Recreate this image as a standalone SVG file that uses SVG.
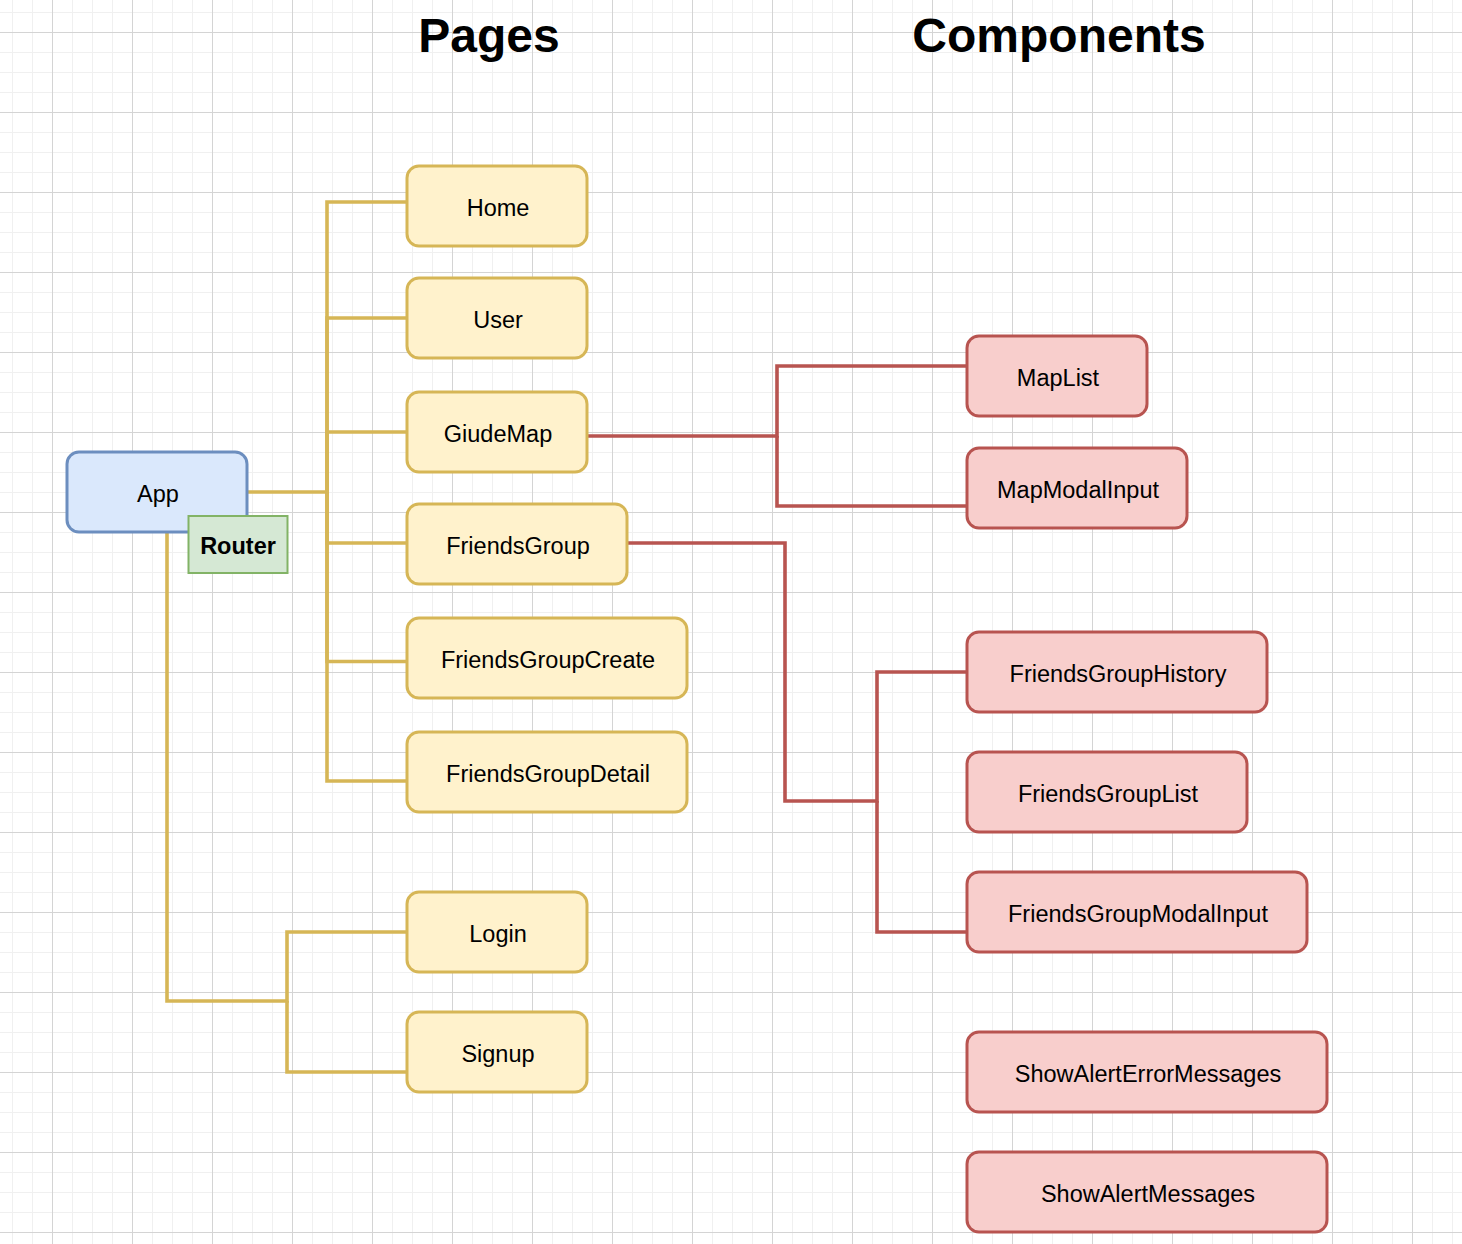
<svg xmlns="http://www.w3.org/2000/svg" width="1462" height="1244" viewBox="0 0 1462 1244">
  <defs>
    <pattern id="minor" x="12" y="12" width="20" height="20" patternUnits="userSpaceOnUse">
      <path d="M0.5 0V20M0 0.5H20" fill="none" stroke="#f0f0f0" stroke-width="1"/>
    </pattern>
    <pattern id="major" x="52" y="32" width="80" height="80" patternUnits="userSpaceOnUse">
      <path d="M0.5 0V80M0 0.5H80" fill="none" stroke="#d4d4d4" stroke-width="1"/>
    </pattern>
  </defs>
  <style>
    text { font-family: "Liberation Sans", Helvetica, Arial, sans-serif; fill: #000000; text-anchor: middle; }
    .title { font-size: 48px; font-weight: bold; }
    .lbl { font-size: 23.5px; }
    .bold { font-weight: bold; }
    .page { fill: #fff2cc; stroke: #d6b656; stroke-width: 3; }
    .comp { fill: #f8cecc; stroke: #b85450; stroke-width: 3; }
    .app { fill: #dae8fc; stroke: #6c8ebf; stroke-width: 3; }
    .router { fill: #d5e8d4; stroke: #82b366; stroke-width: 2; }
    .y { fill: none; stroke: #d6b656; stroke-width: 3.6; stroke-linejoin: miter; }
    .r { fill: none; stroke: #b85450; stroke-width: 3.6; stroke-linejoin: miter; }
  </style>
  <rect x="0" y="0" width="1462" height="1244" fill="#ffffff"/>
  <rect x="0" y="0" width="1462" height="1244" fill="url(#minor)"/>
  <rect x="0" y="0" width="1462" height="1244" fill="url(#major)"/>

  <g id="titles">
    <text class="title" x="489" y="52">Pages</text>
    <text class="title" x="1059" y="52">Components</text>
  </g>

  <g id="connectors">
    <path class="y" d="M248 492 H327 V202 H407"/>
    <path class="y" d="M327 492 V318 H407"/>
    <path class="y" d="M327 492 V432 H407"/>
    <path class="y" d="M327 492 V543 H407"/>
    <path class="y" d="M327 492 V661.5 H407"/>
    <path class="y" d="M327 492 V781 H407"/>
    <path class="y" d="M167 533 V1001 H287 V932 H407"/>
    <path class="y" d="M287 1001 V1072 H407"/>
    <path class="r" d="M588 436 H777 V366 H967"/>
    <path class="r" d="M777 436 V506 H967"/>
    <path class="r" d="M628 543 H785 V801 H877 V672 H967"/>
    <path class="r" d="M877 801 V932 H967"/>
  </g>

  <g id="node-app">
    <rect class="app" x="67" y="452" width="180" height="80" rx="12"/>
    <text class="lbl" x="158" y="501.5">App</text>
  </g>
  <g id="node-router">
    <rect class="router" x="188.5" y="516" width="99" height="57"/>
    <text class="lbl bold" x="238" y="553.5">Router</text>
  </g>

  <g id="node-home">
    <rect class="page" x="407" y="166" width="180" height="80" rx="12"/>
    <text class="lbl" x="498" y="215.5">Home</text>
  </g>
  <g id="node-user">
    <rect class="page" x="407" y="278" width="180" height="80" rx="12"/>
    <text class="lbl" x="498" y="327.5">User</text>
  </g>
  <g id="node-giudemap">
    <rect class="page" x="407" y="392" width="180" height="80" rx="12"/>
    <text class="lbl" x="498" y="441.5">GiudeMap</text>
  </g>
  <g id="node-friendsgroup">
    <rect class="page" x="407" y="504" width="220" height="80" rx="12"/>
    <text class="lbl" x="518" y="553.5">FriendsGroup</text>
  </g>
  <g id="node-friendsgroupcreate">
    <rect class="page" x="407" y="618" width="280" height="80" rx="12"/>
    <text class="lbl" x="548" y="667.5">FriendsGroupCreate</text>
  </g>
  <g id="node-friendsgroupdetail">
    <rect class="page" x="407" y="732" width="280" height="80" rx="12"/>
    <text class="lbl" x="548" y="781.5">FriendsGroupDetail</text>
  </g>
  <g id="node-login">
    <rect class="page" x="407" y="892" width="180" height="80" rx="12"/>
    <text class="lbl" x="498" y="941.5">Login</text>
  </g>
  <g id="node-signup">
    <rect class="page" x="407" y="1012" width="180" height="80" rx="12"/>
    <text class="lbl" x="498" y="1061.5">Signup</text>
  </g>

  <g id="node-maplist">
    <rect class="comp" x="967" y="336" width="180" height="80" rx="12"/>
    <text class="lbl" x="1058" y="385.5">MapList</text>
  </g>
  <g id="node-mapmodalinput">
    <rect class="comp" x="967" y="448" width="220" height="80" rx="12"/>
    <text class="lbl" x="1078" y="497.5">MapModalInput</text>
  </g>
  <g id="node-friendsgrouphistory">
    <rect class="comp" x="967" y="632" width="300" height="80" rx="12"/>
    <text class="lbl" x="1118" y="681.5">FriendsGroupHistory</text>
  </g>
  <g id="node-friendsgrouplist">
    <rect class="comp" x="967" y="752" width="280" height="80" rx="12"/>
    <text class="lbl" x="1108" y="801.5">FriendsGroupList</text>
  </g>
  <g id="node-friendsgroupmodalinput">
    <rect class="comp" x="967" y="872" width="340" height="80" rx="12"/>
    <text class="lbl" x="1138" y="921.5">FriendsGroupModalInput</text>
  </g>
  <g id="node-showalerterrormessages">
    <rect class="comp" x="967" y="1032" width="360" height="80" rx="12"/>
    <text class="lbl" x="1148" y="1081.5">ShowAlertErrorMessages</text>
  </g>
  <g id="node-showalertmessages">
    <rect class="comp" x="967" y="1152" width="360" height="80" rx="12"/>
    <text class="lbl" x="1148" y="1201.5">ShowAlertMessages</text>
  </g>
</svg>
